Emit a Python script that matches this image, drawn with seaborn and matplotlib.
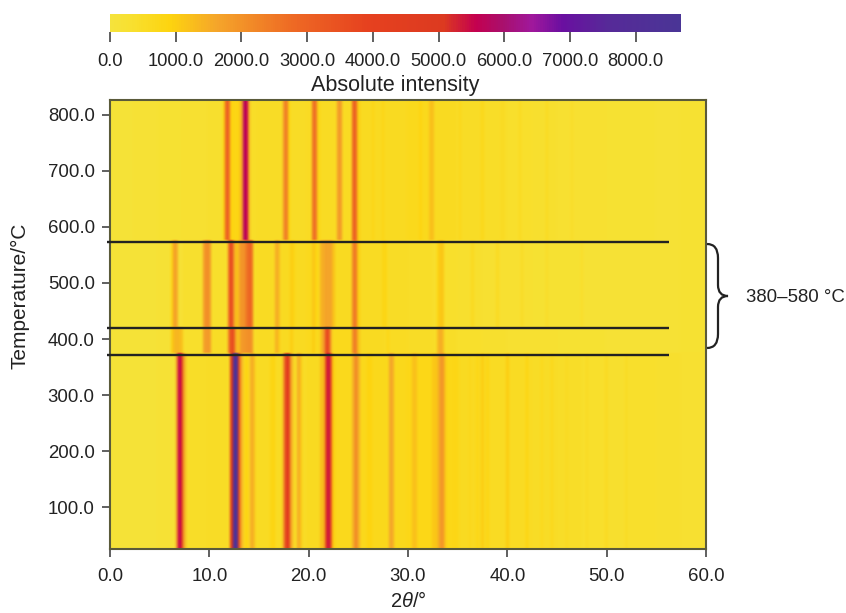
import numpy as np
import pandas as pd
import seaborn as sns
import matplotlib.pyplot as plt
from matplotlib.colors import LinearSegmentedColormap
from matplotlib.path import Path
from matplotlib.patches import PathPatch
from matplotlib.transforms import IdentityTransform

# colour bar stops
cbar_values = [0, 300, 900, 1600, 2760, 3920, 5080, 5570, 6000, 6430, 6890, 7600, 8690]
cbar_colors = ["#f5e33c", "#f8e030", "#fdd40f", "#f5a62a", "#ee6a24", "#e6411f", "#dc3a20",
               "#c4004f", "#a8106e", "#a0189c", "#6a0fa0", "#562a98", "#4a3596"]
cbar_ticks = [0, 1000, 2000, 3000, 4000, 5000, 6000, 7000, 8000]
x_ticks = [0, 10, 20, 30, 40, 50, 60]
y_ticks = [100, 200, 300, 400, 500, 600, 700, 800]
band_lines = [573, 420, 372]

# background level in 2.5 degree blocks, 0 to 60
bg_bottom = [150, 150, 200, 450, 500, 550, 550, 500, 600, 650, 700, 700, 750, 750, 600, 550, 550, 500, 450, 400, 350, 400, 350, 300]
bg_low = [150, 150, 200, 400, 500, 500, 550, 600, 650, 650, 600, 550, 500, 450, 400, 350, 300, 300, 250, 250, 200, 200, 200, 250]
bg_mid = [150, 150, 200, 350, 400, 500, 550, 600, 650, 600, 550, 500, 450, 400, 350, 300, 300, 250, 250, 200, 200, 200, 200, 250]
bg_top = [150, 200, 250, 300, 350, 450, 500, 500, 550, 550, 600, 600, 650, 600, 500, 450, 400, 350, 300, 300, 250, 250, 200, 250]

# 2theta cells and intensity per temperature band
bottom_angle = [6.75, 7.0, 7.25, 7.5, 12.25, 12.5, 12.75, 13.0, 13.25, 13.75, 14.25, 14.5, 16.25, 16.5,
                17.5, 17.75, 18.0, 18.25, 19.0, 19.25, 21.25, 21.5, 21.75, 22.0, 22.25, 22.5,
                24.5, 24.75, 25.0, 26.0, 26.25, 28.25, 28.5, 30.5, 30.75,
                32.5, 32.75, 33.0, 33.25, 33.5, 33.75, 34.75, 35.0, 36.25, 37.0, 37.5, 38.0, 40.0, 42.0,
                43.5, 44.5, 46.0, 48.0, 50.0, 52.0]
bottom_value = [2200, 5600, 5000, 1500, 5000, 8400, 8400, 4000, 1500, 900, 1500, 1300, 800, 900,
                2200, 4300, 4400, 1500, 1500, 1100, 1200, 1300, 4300, 5400, 3600, 1000,
                1500, 2400, 1500, 900, 900, 1600, 1500, 1200, 1200,
                1100, 1100, 1300, 1800, 2000, 1200, 800, 750, 700, 750, 1000, 800, 1000, 900,
                650, 700, 600, 550, 550, 500]

low_angle = [6.25, 6.5, 6.75, 7.0, 7.25, 9.5, 9.75, 10.0, 12.0, 12.25, 12.5, 12.75, 13.0, 13.25, 13.5, 13.75, 14.0, 14.25,
             16.75, 17.0, 18.25, 20.5, 21.25, 21.5, 21.75, 22.0, 22.25, 24.5, 24.75, 25.0, 28.0, 33.0, 33.25, 33.5]
low_value = [1000, 1300, 1400, 1300, 1200, 1700, 1900, 1800, 2500, 3600, 3300, 1400, 1200, 1800, 1900, 2000, 2100, 2000,
             1400, 1100, 1000, 1000, 1200, 1700, 3700, 3500, 1500, 2200, 2500, 1200, 800, 1300, 1500, 1300]

mid_angle = [6.25, 6.5, 6.75, 9.5, 9.75, 10.0, 12.0, 12.25, 12.5, 12.75, 13.0, 13.25, 13.5, 13.75, 14.0, 14.25,
             16.75, 17.0, 18.25, 18.5, 20.5, 20.75, 21.25, 21.5, 21.75, 22.0, 22.25, 22.5,
             24.5, 24.75, 25.0, 27.5, 27.75, 33.0, 33.25, 33.5, 36.5, 39.0, 41.5, 44.0, 47.5]
mid_value = [900, 1700, 1500, 1800, 2200, 1900, 2800, 3800, 1800, 1200, 1400, 2000, 1900, 2500, 3000, 2800,
             1500, 1300, 1000, 800, 1100, 900, 1400, 1500, 1700, 1600, 1700, 1200,
             2300, 2600, 1000, 800, 800, 900, 1100, 1100, 600, 550, 500, 450, 400]

top_angle = [11.5, 11.75, 12.0, 12.25, 12.5, 12.75, 13.0, 13.25, 13.5, 13.75, 14.0,
             17.5, 17.75, 18.0, 20.5, 20.75, 21.0, 23.0, 23.25, 24.5, 24.75, 25.0,
             26.5, 27.5, 31.25, 32.25, 32.5, 35.25, 37.5, 39.5, 41.25, 44.0, 46.5]
top_value = [1000, 3000, 2800, 900, 800, 800, 900, 1500, 5800, 5600, 1500,
             2000, 2400, 900, 2600, 2600, 800, 1800, 1800, 2900, 3000, 1000,
             800, 800, 850, 1200, 1250, 700, 700, 550, 600, 600, 450]


def spectrum(background, angle, value):
    s = pd.Series(np.repeat(background + background[-1:], 10), index=np.arange(250) * 0.25, dtype=float)
    s[angle] = value
    return s


bands = [
    (26, 372, spectrum(bg_bottom, bottom_angle, bottom_value)),
    (372, 420, spectrum(bg_low, low_angle, low_value)),
    (420, 573, spectrum(bg_mid, mid_angle, mid_value)),
    (573, 826, spectrum(bg_top, top_angle, top_value)),
]

# one row every 5 degrees
temps = np.arange(26, 826, 5)
rows = {}
for t in temps:
    for lo, hi, s in bands:
        if lo <= t < hi:
            rows[t] = s
df = pd.DataFrame(rows).T

cmap = LinearSegmentedColormap.from_list(
    "xrd", [(v / cbar_values[-1], c) for v, c in zip(cbar_values, cbar_colors)])

x_shift = 0.5  # cell centres sit half a cell past the angle they are named by


def x_pos(a):
    return np.asarray(a) / 0.25 + x_shift


def y_pos(t):
    return (np.asarray(t) - temps[0]) / 5


# the reference is a soft, resampled image
def soften(img, dpi):
    pad = 4
    out = np.pad(img, pad, mode="edge")[:, :, pad:-pad]
    a = out.astype(float)
    for axis, kernel in ((1, [1, 2, 3, 2, 1]), (0, [1, 2, 1])):
        total = 0
        for i, w in enumerate(kernel):
            total = total + w * np.roll(a, i - len(kernel) // 2, axis=axis)
        a = total / sum(kernel)
    return a[pad:-pad, pad:-pad], 0, 0


sns.set_theme(style="white")
plt.rcParams["font.family"] = ["Liberation Sans", "DejaVu Sans"]
plt.rcParams["mathtext.fontset"] = "custom"
plt.rcParams["mathtext.it"] = "Liberation Sans:italic"
plt.rcParams["mathtext.rm"] = "Liberation Sans"
text_color = "#222222"
W, H = 846, 613

fig = plt.figure(figsize=(W / 100, H / 100), dpi=100)
ax = fig.add_axes([110 / W, 1 - 549 / H, 596 / W, 449 / H])
cax = fig.add_axes([110 / W, 1 - 32 / H, 571 / W, 18 / H])

sns.heatmap(df, cmap=cmap, vmin=0, vmax=cbar_values[-1], ax=ax, cbar_ax=cax,
            xticklabels=False, yticklabels=False,
            cbar_kws={"orientation": "horizontal", "ticks": cbar_ticks, "format": "%.1f"})
ax.collections[0].set_agg_filter(soften)

ax.set_ylim(0, len(temps))
ax.set_xlim(x_pos(0), x_pos(60))
ax.set_xticks(x_pos(x_ticks), [f"{v:.1f}" for v in x_ticks])
ax.set_yticks(y_pos(y_ticks), [f"{v:.1f}" for v in y_ticks], rotation=0)
ax.tick_params(axis="both", length=6, width=1.2, color="#444444", labelsize=13.4,
               labelcolor=text_color, bottom=True, left=True)
ax.tick_params(axis="x", pad=8)
ax.tick_params(axis="y", pad=5)
ax.set_xlabel(r"2$\mathit{\theta}$/°", fontsize=14.5, color=text_color, labelpad=4)
ax.set_ylabel("Temperature/°C", fontsize=15, color=text_color)
ax.yaxis.set_label_coords(-80 / 596, 0.565)
for sp in ax.spines.values():
    sp.set_visible(True)
    sp.set_color("#5a5a3a")
    sp.set_linewidth(1.5)

ax.hlines(y_pos(band_lines), x_pos(-0.3), x_pos(56.3), color="#222222", lw=1.7, clip_on=False, zorder=5)

cax.tick_params(axis="x", length=7, width=1.2, color="#444444", labelsize=13.2,
                labelcolor=text_color, bottom=True, pad=8)
cax.set_xlabel("Absolute intensity", fontsize=15.5, color=text_color, labelpad=4)

# curly bracket, in pixels of the figure
verts = [(707, 244), (718, 244), (718, 258), (718, 285), (718, 296), (728, 296),
         (718, 296), (718, 307), (718, 334), (718, 348), (707, 348)]
codes = [Path.MOVETO, Path.CURVE3, Path.CURVE3, Path.LINETO, Path.CURVE3, Path.CURVE3,
         Path.CURVE3, Path.CURVE3, Path.LINETO, Path.CURVE3, Path.CURVE3]
fig.add_artist(PathPatch(Path([(x, H - y) for x, y in verts], codes), fill=False, lw=1.6,
                         ec="#222222", transform=IdentityTransform()))
fig.text(746 / W, 1 - 297 / H, "380–580 °C", fontsize=13.4, color=text_color, va="center", ha="left")

fig.savefig("out.png", dpi=100)
